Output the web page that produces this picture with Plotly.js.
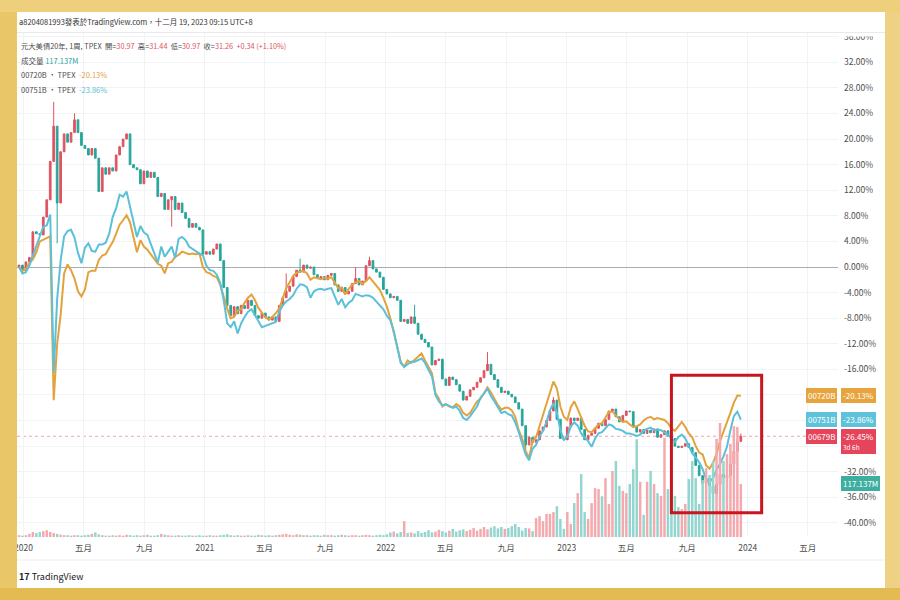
<!DOCTYPE html>
<html><head><meta charset="utf-8">
<script src="https://cdn.plot.ly/plotly-3.0.1.min.js"></script>
<style>html,body{margin:0;padding:0;background:#fff}#chart{width:900px;height:600px}</style>
</head><body><div id="chart"></div>
<script>
// ---------- DATA (weekly bars, % change from first bar) ----------
const firstWeek = [2019, 11, 23]; // Monday of first weekly bar (UTC y, m0, d)

// 00679B 元大美債20年 weekly closes, % change
const close00679B = [
  0.3, -0.5, 0.8, 1.5, 5.5, 5.2, 5.0, 7.8, 10.5, 16.5,
  22.0, 10.0, 18.0, 20.8, 19.5, 21.0, 23.0, 21.0, 19.0, 18.5,
  17.5, 18.5, 17.0, 11.8, 15.5, 14.5, 15.5, 15.0, 17.5, 18.8,
  20.0, 20.8, 16.0, 15.5, 15.2, 13.0, 15.0, 14.0, 14.8, 14.0,
  11.0, 11.5, 9.0, 10.5, 11.0, 9.0, 10.0, 8.5, 7.6, 6.2,
  6.8, 6.2, 5.8, 2.0, 2.4, 2.0, 2.8, 3.6, 1.0, -3.2,
  -6.0, -7.6, -6.2, -7.3, -6.0, -6.5, -5.2, -6.0, -7.6, -8.0,
  -7.2, -7.8, -8.3, -7.8, -8.5, -6.0, -4.8, -3.8, -3.0, -1.5,
  -0.5, -0.8, 0.3, -0.2, 0.0, -1.2, -1.8, -1.5, -2.0, -1.3,
  -1.0, -2.8, -3.8, -3.2, -4.2, -3.8, -2.6, -1.8, -2.8, -2.2,
  0.2, 1.0, -0.3, -0.8, -1.6, -3.5, -4.2, -4.8, -4.6, -5.2,
  -8.5, -8.2, -8.8, -7.8, -8.8, -10.5, -11.3, -11.8, -12.5, -15.3,
  -14.6, -14.4, -17.5, -18.5, -17.2, -17.6, -18.4, -19.4, -20.8, -20.2,
  -19.2, -18.8, -18.0, -17.3, -16.2, -15.2, -16.8, -17.6, -18.8, -19.6,
  -19.4, -19.9, -20.3, -21.2, -22.2, -24.8, -27.8, -26.6, -27.4, -27.0,
  -25.6, -25.0, -24.0, -22.5, -20.8, -23.8, -26.8, -27.0, -25.0, -23.6,
  -24.0, -23.6, -25.4, -27.0, -26.3, -26.0, -25.2, -24.4, -24.8, -23.8,
  -22.5, -22.2, -23.4, -24.2, -23.2, -22.5, -22.6, -25.0, -25.8, -25.4,
  -26.0, -25.5, -25.9, -25.3, -26.6, -26.2, -25.6, -26.4, -26.8, -28.0,
  -28.2, -28.0, -27.6, -28.2, -29.0, -31.0, -32.6, -33.8, -33.0, -34.2,
  -35.4, -34.0, -32.4, -32.9, -32.6, -30.8, -28.8, -27.25, -26.45
];
// notable wick extremes [barIndex, value]
const wickHighs = [[10, 25.8], [16, 24.0], [77, -1.0], [81, 1.3], [97, 0.0], [101, 1.6], [114, -5.9], [135, -13.3], [154, -20.3], [208, -26.02]];
const wickLows = [[11, 3.7], [44, 6.3], [146, -28.6], [200, -35.6]];

// 00720B comparison line, % change
const line00720B = [
  0.0, -0.6, -0.4, 0.6, 1.2, 2.3, 4.0, 4.3, 4.6, 4.8,
  -20.8, -12.0, -7.5, -1.0, 0.4, -0.5, -1.8, -3.8, -4.6, -3.5,
  -0.8, -0.6, -0.6, 1.1, 1.8, 2.0, 3.0, 3.9, 5.2, 6.6,
  7.3, 8.1, 7.0, 4.7, 2.3, 4.2, 3.2, 2.7, 2.0, 1.3,
  0.5, 0.2, -1.0, 0.6, 0.8, 1.6, 1.9, 2.4, 2.2, 2.0,
  2.1, 2.0, 2.1, 0.0, -0.8, -1.0, -1.4, -1.6, -2.8, -4.8,
  -6.5, -8.0, -7.8, -6.8, -6.6, -5.6, -4.8, -4.3, -5.2, -6.4,
  -7.2, -7.9, -8.2, -7.8, -7.2, -6.5, -4.9, -3.3, -2.4, -1.4,
  -0.9, -0.8, -0.6, -1.0, -2.0, -1.6, -1.8, -1.9, -1.7, -1.8,
  -1.6, -2.4, -3.3, -3.2, -4.3, -3.4, -2.8, -2.4, -2.2, -2.6,
  -2.2, -1.6, -2.3, -3.0, -3.6, -4.8, -6.2, -8.0, -10.2, -12.8,
  -14.8, -15.6, -14.6, -15.0, -14.5, -14.0, -13.5, -14.6, -15.5, -16.6,
  -19.7, -20.6, -21.8, -21.4, -21.8, -21.9, -21.4, -21.8, -22.8, -23.2,
  -22.8, -21.8, -21.0, -20.6, -19.6, -18.8, -19.6, -20.6, -21.6, -22.3,
  -22.0, -22.0, -22.4, -23.4, -25.5, -26.8, -28.8, -29.8, -27.2, -26.6,
  -24.8, -23.0, -21.5, -19.4, -17.9, -19.0, -21.8, -23.4, -23.9, -21.9,
  -21.0, -22.2, -23.6, -24.8, -25.7, -25.8, -25.2, -24.6, -24.4, -23.6,
  -22.6, -22.6, -23.2, -23.8, -24.2, -24.1, -24.6, -25.0, -24.9, -24.6,
  -24.0, -23.6, -23.4, -23.8, -23.6, -23.7, -23.9, -24.4, -25.2, -25.6,
  -24.9, -24.2, -25.0, -26.0, -26.6, -28.0, -29.0, -29.3, -31.0, -31.5,
  -30.6, -29.2, -27.2, -25.8, -24.5, -22.8, -21.2, -20.1, -20.13
];

// 00751B comparison line, % change
const line00751B = [
  0.0, -1.0, -0.8, 0.2, 1.8, 3.3, 5.0, 6.3, 6.5, 8.2,
  -16.5, -5.0, 1.0, 4.8, 5.6, 5.8, 4.6, 2.2, 0.6, 3.0,
  3.7, 2.5, 2.4, 3.5, 3.5, 3.8, 5.2, 7.8, 9.2, 11.3,
  11.0, 11.8, 9.4, 6.8, 4.7, 6.4, 5.4, 5.0, 3.6, 2.0,
  0.7, 3.2, 1.6, 2.4, 3.2, 1.4, 4.4, 4.7, 4.2, 3.2,
  2.8, 2.4, 2.1, 1.8, 0.2, -0.5, -0.6, -1.2, -2.5, -5.2,
  -8.8, -9.4, -8.5, -10.4, -8.8, -7.8, -7.0, -6.6, -7.6, -8.6,
  -9.4, -9.2, -9.0, -8.8, -8.6, -7.0, -6.0, -5.4, -5.0, -4.4,
  -3.4, -2.7, -2.8, -3.2, -4.8, -3.8, -3.5, -3.4, -3.6, -3.4,
  -3.3, -4.6, -5.9, -5.0, -6.3, -5.6, -5.2, -4.2, -4.4, -4.6,
  -4.4, -4.5, -4.8, -5.4, -6.0, -6.6, -7.6, -8.3, -10.0, -12.8,
  -15.0, -15.6, -15.2, -14.8, -14.8, -14.5, -14.3, -15.0, -16.0, -17.1,
  -20.0, -21.0, -21.6, -21.5, -21.7, -22.0, -21.8, -22.5, -23.6, -23.9,
  -23.3, -22.5, -21.8, -20.4, -19.8, -19.0, -20.2, -21.0, -22.0, -22.8,
  -22.6, -23.0, -23.2, -24.3, -25.8, -27.5, -29.3, -30.2, -28.4, -27.8,
  -26.5, -25.6, -24.2, -22.4, -21.3, -22.8, -25.5, -27.0, -26.5, -24.9,
  -24.3, -24.8, -26.0, -26.6, -27.2, -28.1, -26.8, -26.0, -25.8, -25.2,
  -24.6, -24.8, -25.3, -25.4, -25.6, -26.0, -26.0, -26.2, -26.4, -26.2,
  -25.6, -25.3, -25.1, -25.5, -25.4, -25.5, -25.8, -26.2, -26.8, -27.3,
  -26.6, -26.2, -26.8, -28.0, -29.1, -29.8, -30.5, -31.6, -33.2, -33.6,
  -33.0, -31.7, -30.8, -29.6, -28.1, -25.5, -23.3, -22.6, -23.86
];

// 00679B weekly volume, millions of units
const volumeM = [
  4, 3, 4, 7, 11, 9, 11, 13, 15, 11,
  9, 7, 5, 4, 4, 3, 4, 4, 3, 4,
  5, 7, 10, 6, 4, 3, 3, 4, 3, 4,
  3, 5, 4, 3, 4, 3, 4, 5, 3, 3,
  4, 7, 5, 4, 3, 3, 4, 3, 3, 4,
  3, 3, 4, 3, 3, 4, 3, 3, 4, 5,
  6, 4, 3, 4, 3, 3, 4, 3, 3, 5,
  4, 3, 4, 3, 4, 5, 6, 7, 5, 4,
  6, 5, 4, 4, 3, 4, 4, 3, 5, 4,
  4, 3, 4, 5, 4, 3, 4, 4, 3, 4,
  5, 4, 3, 4, 5, 4, 6, 10, 12, 8,
  11, 35, 9, 10, 8, 13, 9, 11, 15, 10,
  12, 16, 13, 10, 14, 18, 12, 15, 17, 13,
  16, 20, 14, 18, 22, 17, 21, 24, 19, 22,
  18, 20, 24, 29, 22, 14, 20, 19, 13, 42,
  46, 35, 51, 51, 55, 68, 40, 18, 55, 29,
  75, 97, 139, 55, 40, 75, 108, 106, 90, 130,
  73, 146, 168, 113, 102, 97, 117, 150, 216, 122,
  49, 122, 146, 117, 97, 91, 219, 106, 117, 91,
  66, 62, 73, 128, 168, 130, 73, 126, 152, 137,
  168, 217, 252, 168, 183, 206, 245, 243, 117.137
];

const quote = { open: '30.97', high: '31.44', low: '30.97', close: '31.26', change: '+0.34 (+1.10%)' };
const volumeLabel = '117.137M';
const countdownLabel = '3d 6h';

const yTickVals = [-40, -36, -32, -28, -24, -20, -16, -12, -8, -4, 0, 4, 8, 12, 16, 20, 24, 28, 32, 36];
const yTicksHiddenByTags = [-28, -24, -20];
const xTickVals = ['2020-01-01', '2020-05-01', '2020-09-01', '2021-01-01', '2021-05-01', '2021-09-01',
  '2022-01-01', '2022-05-01', '2022-09-01', '2023-01-01', '2023-05-01', '2023-09-01', '2024-01-01', '2024-05-01'];
const xTickText = ['2020', '五月', '九月', '2021', '五月', '九月', '2022', '五月', '九月', '2023', '五月', '九月', '2024', '五月'];

const headerText = 'a8204081993發表於TradingView.com，十二月 19, 2023 09:15 UTC+8';
const seriesTitle = '元大美債20年, 1周, TPEX';
const nameMain = '00679B', name720 = '00720B', name751 = '00751B';
const highlightBox = { x0: '2023-07-31', x1: '2024-01-29', y0: -38.4, y1: -16.9 };

// ---------- BUILD ----------
const n = close00679B.length;
const t0 = Date.UTC(firstWeek[0], firstWeek[1], firstWeek[2]);
const dates = Array.from({ length: n }, (_, i) => new Date(t0 + i * 7 * 864e5).toISOString().slice(0, 10));
const open = close00679B.map((c, i) => i === 0 ? 0 : close00679B[i - 1]);
const high = close00679B.map((c, i) => Math.max(c, open[i]));
const low = close00679B.map((c, i) => Math.min(c, open[i]));
wickHighs.forEach(([i, v]) => { high[i] = Math.max(high[i], v); });
wickLows.forEach(([i, v]) => { low[i] = Math.min(low[i], v); });

const UP = '#E0535F', DOWN = '#26A69A';
const ORANGE = '#E3A23C', TEAL = '#5BC0D8';
const volColors = close00679B.map((c, i) => c >= open[i] ? '#F3A9AE' : '#93D5CF');

const traces = [
  { type: 'bar', x: dates, y: volumeM, yaxis: 'y2', width: 5 * 864e5,
    marker: { color: volColors, line: { width: 0 } }, hoverinfo: 'skip' },
  { type: 'candlestick', x: dates, open, high, low, close: close00679B,
    increasing: { line: { color: UP, width: 1 }, fillcolor: UP },
    decreasing: { line: { color: DOWN, width: 1 }, fillcolor: DOWN },
    whiskerwidth: 0, hoverinfo: 'skip' },
  { type: 'scatter', mode: 'lines', x: dates, y: line00720B, line: { color: ORANGE, width: 2 }, hoverinfo: 'skip' },
  { type: 'scatter', mode: 'lines', x: dates, y: line00751B, line: { color: TEAL, width: 2 }, hoverinfo: 'skip' }
];

// pixel helpers for the frame (plot area 17..838 x 32..537)
const PX = px => (px - 17) / 821;
const PY = py => (537 - py) / 505;
const pct = v => v.toFixed(2) + '%';
const last = a => a[a.length - 1];
const nb = '\u00a0';

const FONT = '"Noto Sans CJK TC", "Noto Sans", sans-serif';
const gray = '#4d4d4d';

const ann = [];
const note = (x, y, text, size, color, extra) => ann.push(Object.assign({ xref: 'paper', yref: 'paper', x, y, text, showarrow: false, xanchor: 'left', yanchor: 'middle', font: { size, color, family: FONT } }, extra || {}));

note(PX(17), PY(22), headerText, 7.5, '#333');
const sp = nb + nb;
note(PX(19), PY(46), seriesTitle + sp + '開=<span style="color:' + UP + '">' + quote.open + '</span>' + sp +
  '高=<span style="color:' + UP + '">' + quote.high + '</span>' + sp +
  '低=<span style="color:' + UP + '">' + quote.low + '</span>' + sp +
  '收=<span style="color:' + UP + '">' + quote.close + '</span>' + sp +
  '<span style="color:' + UP + '">' + quote.change + '</span>', 7.3, gray);
note(PX(19), PY(60.5), '成交量' + nb + '<span style="color:' + DOWN + '">' + volumeLabel + '</span>', 7.5, gray);
note(PX(19), PY(75), name720 + ' · TPEX' + sp + '<span style="color:' + ORANGE + '">' + pct(last(line00720B)) + '</span>', 7.5, gray);
note(PX(19), PY(89.5), name751 + ' · TPEX' + sp + '<span style="color:' + TEAL + '">' + pct(last(line00751B)) + '</span>', 7.5, gray);

// right-hand price tags
function tag(name, valueText, yref, yval, bg, extra) {
  if (name) ann.push({ xref: 'paper', yref, x: 1, y: yval, xanchor: 'right', yanchor: 'middle', xshift: -1, text: name, bgcolor: bg,
    borderpad: 2, borderwidth: 0, showarrow: false, font: { size: 8, color: '#fff', family: FONT } });
  ann.push(Object.assign({ xref: 'paper', yref, x: 1, y: yval, xanchor: 'left', yanchor: 'middle', xshift: 3, text: valueText, bgcolor: bg,
    borderpad: 2, borderwidth: 0, showarrow: false, align: 'left', font: { size: 8, color: '#fff', family: FONT } }, extra || {}));
}
tag(name720, pct(last(line00720B)), 'y', last(line00720B), '#E8A43C');
tag(name751, pct(last(line00751B)), 'y', last(line00751B), '#5EC3DA');
tag(nameMain, pct(last(close00679B)) + '<br><span style="font-size:6.5px">' + countdownLabel + '</span>', 'y', last(close00679B), '#E5445A',
  { yanchor: 'top', yshift: 7.5 });
tag(null, volumeLabel, 'y2', last(volumeM), '#3DAE9F');

// footer logo
note(PX(17), PY(576), '<b>17</b>' + nb + 'TradingView', 9, '#222');

const shapes = [
  // last price dotted line
  { type: 'line', xref: 'paper', x0: 0, x1: 1, yref: 'y', y0: last(close00679B), y1: last(close00679B),
    line: { color: 'rgba(214,90,105,0.55)', width: 1, dash: 'dot' }, layer: 'below' },
  // highlight rectangle
  { type: 'rect', xref: 'x', yref: 'y', x0: highlightBox.x0, x1: highlightBox.x1, y0: highlightBox.y0, y1: highlightBox.y1,
    line: { color: '#C9161E', width: 3 }, fillcolor: 'rgba(0,0,0,0)', layer: 'above' },
  // clip top of price scale
  { type: 'rect', xref: 'paper', yref: 'paper', x0: 1, x1: PX(886), y0: PY(36.5), y1: PY(10), fillcolor: '#fff', line: { width: 0 }, layer: 'above' },
  // header separator + time-axis bottom line
  { type: 'line', xref: 'paper', yref: 'paper', x0: 0, x1: PX(885), y0: PY(32.5), y1: PY(32.5), line: { color: '#e9e9ec', width: 1 }, layer: 'above' },
  { type: 'line', xref: 'paper', yref: 'paper', x0: 0, x1: PX(885), y0: PY(560), y1: PY(560), line: { color: '#eeeeef', width: 1 }, layer: 'above' },
  // gold frame
  { type: 'rect', xref: 'paper', yref: 'paper', x0: PX(-10), x1: PX(17), y0: PY(620), y1: PY(-20), fillcolor: '#E9C667', line: { width: 0 }, layer: 'above' },
  { type: 'rect', xref: 'paper', yref: 'paper', x0: PX(885), x1: PX(910), y0: PY(620), y1: PY(-20), fillcolor: '#EDD184', line: { width: 0 }, layer: 'above' },
  { type: 'rect', xref: 'paper', yref: 'paper', x0: PX(-10), x1: PX(910), y0: PY(12), y1: PY(-20), fillcolor: '#EDCF7C', line: { width: 0 }, layer: 'above' },
  { type: 'rect', xref: 'paper', yref: 'paper', x0: PX(-10), x1: PX(910), y0: PY(620), y1: PY(588), fillcolor: '#E4BB53', line: { width: 0 }, layer: 'above' }
];

const layout = {
  width: 900, height: 600,
  margin: { l: 17, r: 62, t: 32, b: 63, pad: 0 },
  paper_bgcolor: '#ffffff', plot_bgcolor: '#ffffff',
  font: { family: FONT, size: 8.5, color: gray },
  showlegend: false, dragmode: false,
  xaxis: { type: 'date', range: ['2019-12-19', '2024-07-01'], tickvals: xTickVals, ticktext: xTickText,
    showgrid: true, gridcolor: '#f1f3f7', zeroline: false, showline: false, ticks: '', ticklabelstandoff: 4,
    tickfont: { size: 8.5, color: gray }, rangeslider: { visible: false }, fixedrange: true },
  yaxis: { side: 'right', range: [-42.19, 36.72], tickvals: yTickVals,
    ticktext: yTickVals.map(v => yTicksHiddenByTags.includes(v) ? '' : pct(v)),
    showgrid: true, gridcolor: '#f1f3f7', zeroline: true, zerolinecolor: '#a9acb3', zerolinewidth: 1,
    ticks: '', ticklabelstandoff: 5, tickfont: { size: 8.5, color: gray }, showline: false, fixedrange: true },
  yaxis2: { overlaying: 'y', side: 'right', range: [0, 1116], visible: false, fixedrange: true },
  shapes, annotations: ann
};

Plotly.newPlot('chart', traces, layout, { staticPlot: true, displayModeBar: false });
</script>
</body></html>
